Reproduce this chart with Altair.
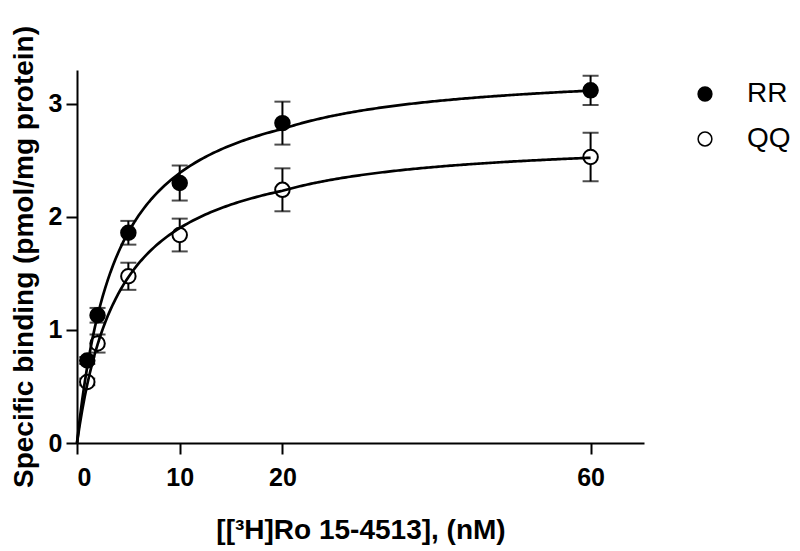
import altair as alt
import pandas as pd
import numpy as np

# ---- data ----
conc = [1, 2, 5, 10, 20, 60]
rr_mean = [0.73, 1.13, 1.86, 2.30, 2.83, 3.12]
rr_sem = [0.03, 0.065, 0.105, 0.155, 0.19, 0.13]
qq_mean = [0.54, 0.88, 1.475, 1.84, 2.24, 2.53]
qq_sem = [0.03, 0.08, 0.12, 0.145, 0.19, 0.215]
groups = ["RR", "QQ"]

# one-site binding fit parameters (Bmax, Kd) estimated from the drawn curves
fit_params = {"RR": (3.32, 3.9), "QQ": (2.70, 4.2)}

x_ticks = [0, 10, 20, 60]
y_ticks = [0, 1, 2, 3]


def axis_pos(x):
    # axis is compressed beyond 20 nM (60 nM sits where 50 would be)
    x = np.asarray(x, dtype=float)
    return np.where(x <= 20, x, 20 + (x - 20) * 0.75)


rows = []
for g, m, s in (("RR", rr_mean, rr_sem), ("QQ", qq_mean, qq_sem)):
    for c, mv, sv in zip(conc, m, s):
        rows.append({"group": g, "conc": c, "pos": float(axis_pos(c)),
                     "mean": mv, "lo": mv - sv, "hi": mv + sv})
pts = pd.DataFrame(rows)

crows = []
grid = np.linspace(0, 60, 241)
for g, (bmax, kd) in fit_params.items():
    for c in grid:
        crows.append({"group": g, "pos": float(axis_pos(c)), "fit": bmax * c / (kd + c)})
curve = pd.DataFrame(crows)

tick_pos = [float(v) for v in axis_pos(x_ticks)]
label_expr = "datum.value == 50 ? '60' : datum.label"

FONT = "Liberation Sans"

xscale = alt.Scale(domain=[0, 55.2], nice=False, zero=False)
yscale = alt.Scale(domain=[0, 3.3], nice=False)

xaxis = alt.Axis(values=tick_pos, labelExpr=label_expr, format="d",
                 title="[[³H]Ro 15-4513], (nM)",
                 grid=False, domainColor="black", domainWidth=2, tickColor="black",
                 tickWidth=2, tickSize=11, labelFont=FONT, labelFontSize=25,
                 labelFontWeight="bold", labelColor="black", labelPadding=11,
                 titleFont=FONT, titleFontSize=28, titleFontWeight="bold",
                 titleColor="black", titlePadding=26)
yaxis = alt.Axis(values=y_ticks, format="d", title="Specific binding (pmol/mg protein)",
                 grid=False, domainColor="black", domainWidth=2, tickColor="black",
                 tickWidth=2, tickSize=11, labelFont=FONT, labelFontSize=25,
                 labelFontWeight="bold", labelColor="black", labelPadding=4,
                 titleFont=FONT, titleFontSize=28, titleFontWeight="bold",
                 titleColor="black", titlePadding=10)

base = alt.Chart(pts)

err = base.mark_rule(color="black", strokeWidth=2).encode(
    x=alt.X("pos:Q", scale=xscale, axis=xaxis),
    y=alt.Y("lo:Q", scale=yscale, axis=yaxis),
    y2="hi:Q",
)
cap_hi = base.mark_tick(color="black", thickness=2, size=16, orient="horizontal").encode(
    x=alt.X("pos:Q", scale=xscale), y=alt.Y("hi:Q", scale=yscale))
cap_lo = base.mark_tick(color="black", thickness=2, size=16, orient="horizontal").encode(
    x=alt.X("pos:Q", scale=xscale), y=alt.Y("lo:Q", scale=yscale))

points = base.mark_point(shape="circle", size=210, stroke="black", strokeWidth=2,
                         opacity=1, fillOpacity=1).encode(
    x=alt.X("pos:Q", scale=xscale),
    y=alt.Y("mean:Q", scale=yscale),
    fill=alt.Fill("group:N", scale=alt.Scale(domain=groups, range=["black", "white"]),
                  legend=alt.Legend(title=None, orient="none", legendX=614, legendY=10,
                                    symbolType="circle", symbolSize=190,
                                    symbolStrokeColor="black", symbolStrokeWidth=1.5,
                                    labelFont=FONT, labelFontSize=28, labelColor="black",
                                    labelOffset=28, rowPadding=17, padding=0)),
)

lines = alt.Chart(curve).mark_line(color="black", strokeWidth=2.7).encode(
    x=alt.X("pos:Q", scale=xscale),
    y=alt.Y("fit:Q", scale=yscale),
    detail="group:N",
)

chart = alt.layer(err, cap_hi, cap_lo, points, lines).properties(
    width=567, height=373,
    autosize=alt.AutoSizeParams(type="none"),
    padding={"left": 69, "top": 62, "right": 148, "bottom": 108},
    background="white",
).configure_view(stroke=None)

chart.save("out.html", embed_options={"renderer": "svg", "actions": False})
